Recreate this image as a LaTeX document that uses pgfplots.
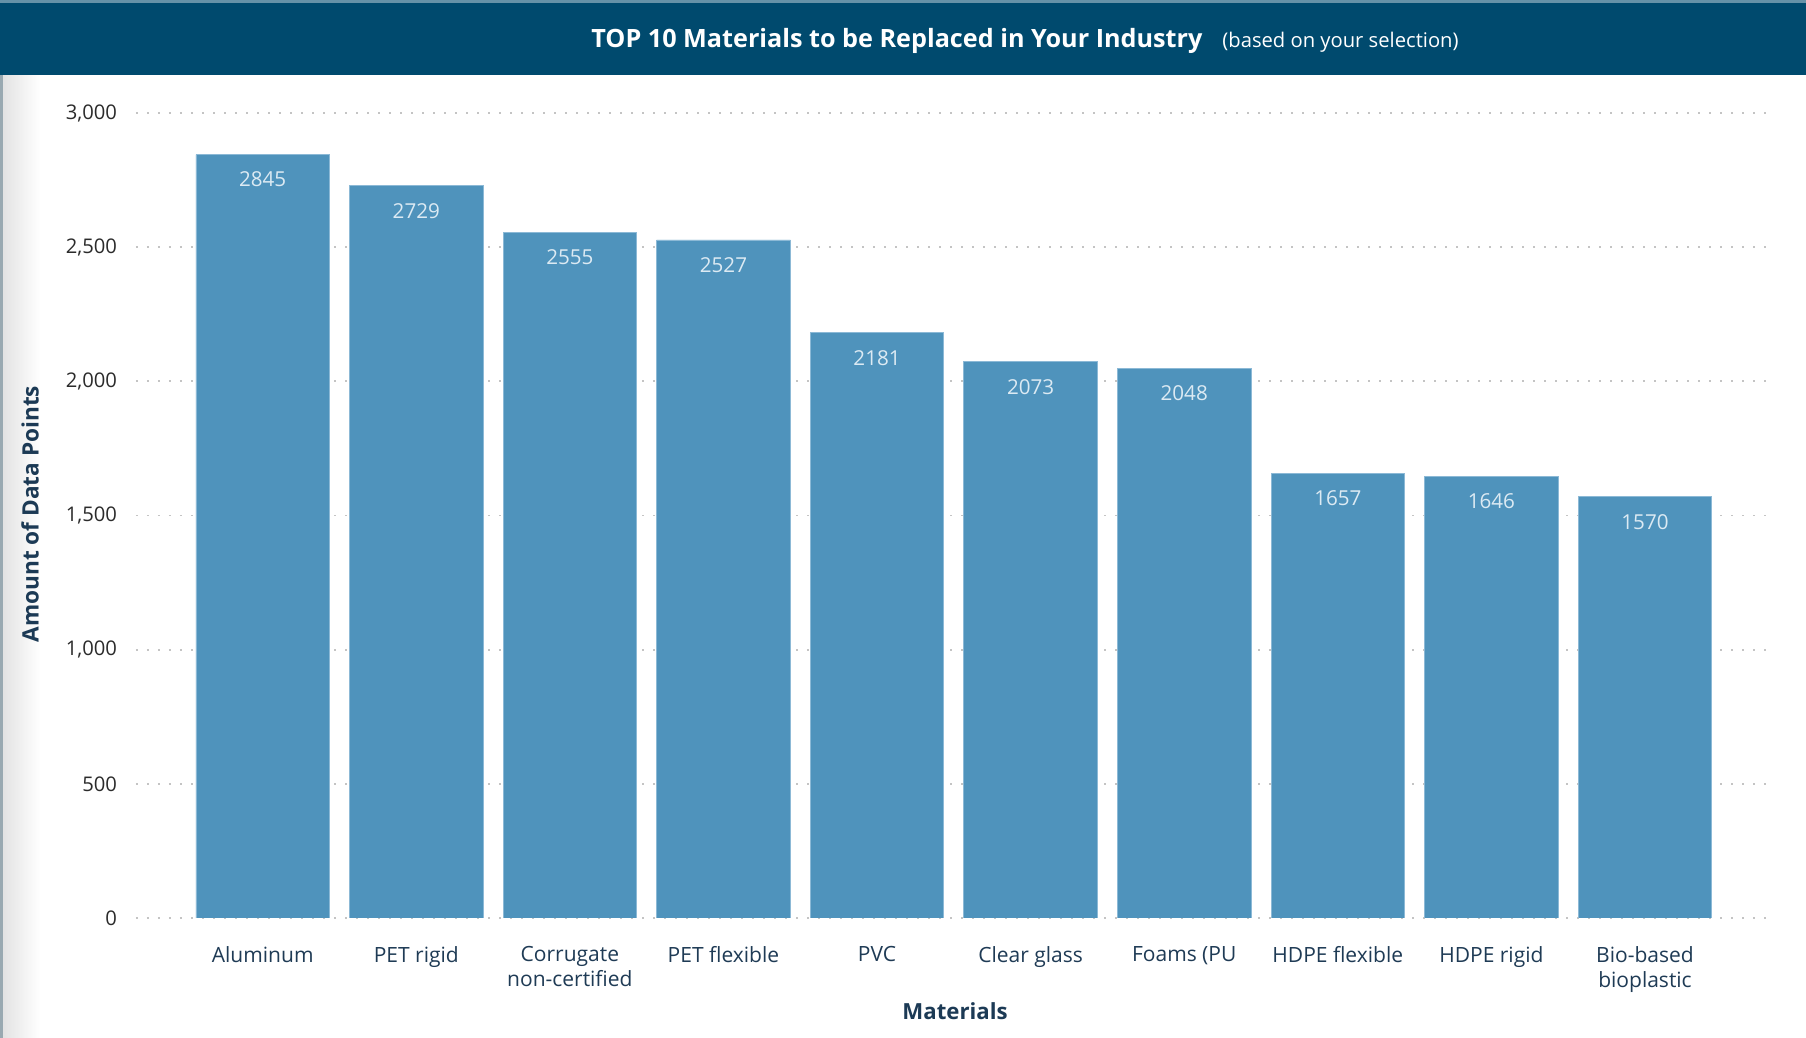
\documentclass[border=0pt]{standalone}
\usepackage{pgfplots}
\pgfplotsset{compat=1.18}
\usepackage{fontspec}
\setmainfont{Open Sans}
\definecolor{hdr}{HTML}{004A6E}
\definecolor{barc}{HTML}{4F93BC}
\definecolor{bardge}{HTML}{8CB9D6}
\definecolor{ytk}{HTML}{2B2B2B}
\definecolor{xtk}{HTML}{1F3B55}
\definecolor{lbl}{HTML}{1C3A55}
\definecolor{gridc}{HTML}{C4C4C4}
\definecolor{vlab}{HTML}{DCEAF3}
\begin{document}
\begin{tikzpicture}[x=1pt,y=1pt]
\path[use as bounding box] (0,0) rectangle (903,519);
\fill[white] (0,0) rectangle (903,519);
\shade[left color=black!12, right color=white] (0,0) rectangle (20,519);
\fill[black!45!hdr!40] (0,0) rectangle (1.6,519);
\fill[hdr] (0,481.5) rectangle (903,519);
\fill[hdr!60!white] (0,517.5) rectangle (903,519);
\node[anchor=base west, text=white, inner sep=0] at (295.5,495)
  {{\bfseries\fontsize{12.6}{14}\selectfont TOP 10 Materials to be Replaced in Your Industry}\hspace{10pt}{\fontsize{10.1}{11}\selectfont (based on your selection)}};
\begin{axis}[
  at={(68pt,60pt)}, anchor=south west,
  scale only axis, width=819pt, height=402.5pt,
  xmin=-0.825, xmax=9.84, ymin=0, ymax=3000,
  axis line style={draw=none},
  ymajorgrids, grid style={gridc, line width=0.9pt, dash pattern=on 0.9pt off 4.6pt},
  ytick={0,500,1000,1500,2000,2500,3000},
  xtick={0,...,9},
  xticklabels={Aluminum, PET rigid, {Corrugate\\non-certified}, PET flexible, PVC, Clear glass, Foams (PU, HDPE flexible, HDPE rigid, {Bio-based\\bioplastic}},
  major tick length=0pt,
  yticklabel style={text=ytk, font=\fontsize{10.1}{11}\selectfont, xshift=-6pt},
  xticklabel style={text=xtk, font=\fontsize{10.5}{12.7}\selectfont, align=center, anchor=north, yshift=-10.5pt},
  /pgf/number format/.cd, 1000 sep={,}, assume math mode=true,
]
\addplot[ybar, bar width=66.8pt, fill=barc, draw=bardge, line width=0.4pt,
  nodes near coords,
  every node near coord/.append style={anchor=north, inner sep=0pt, yshift=-8.5pt, text=vlab, font=\fontsize{10.3}{11}\selectfont, /pgf/number format/1000 sep={}},
  ] coordinates {
  (0,2845) (1,2729) (2,2555) (3,2527) (4,2181) (5,2073) (6,2048) (7,1657) (8,1646) (9,1570)
};
\end{axis}
\node[text=lbl, font=\bfseries\fontsize{11.1}{12}\selectfont] at (477.5,13.5) {Materials};
\node[text=lbl, font=\bfseries\fontsize{11.3}{12}\selectfont, rotate=90] at (15,262) {Amount of Data Points};
\end{tikzpicture}
\end{document}
